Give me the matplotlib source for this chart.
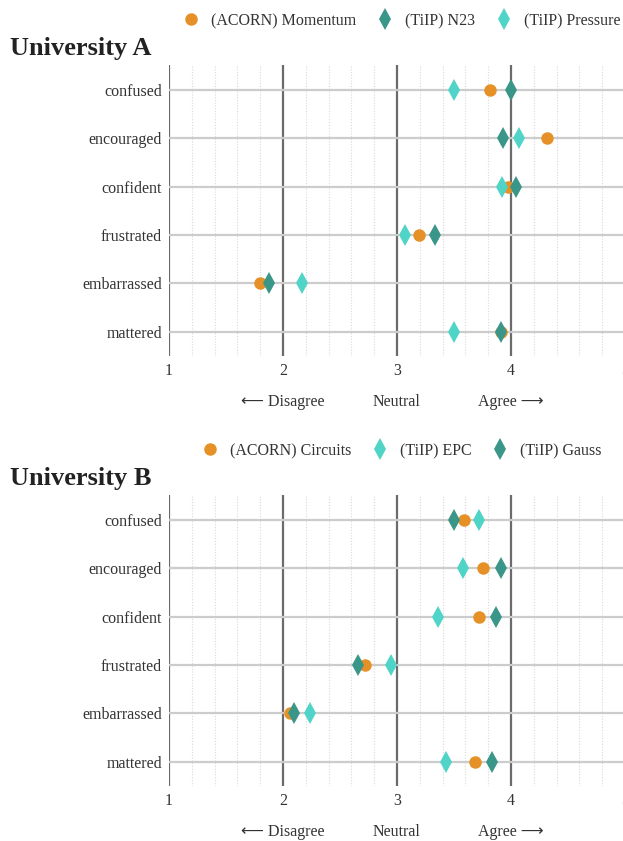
import matplotlib.pyplot as plt
from matplotlib.ticker import MultipleLocator
from matplotlib.transforms import blended_transform_factory

plt.rcParams['font.family'] = ['Liberation Serif', 'DejaVu Sans']

categories = ["confused", "encouraged", "confident", "frustrated", "embarrassed", "mattered"]

# University A course means
uni_a_momentum = [3.82, 4.32, 3.97, 3.19, 1.80, 3.91]
uni_a_n23 = [4.00, 3.93, 4.04, 3.33, 1.88, 3.91]
uni_a_pressure = [3.50, 4.07, 3.92, 3.07, 2.17, 3.50]

# University B course means
uni_b_circuits = [3.59, 3.75, 3.72, 2.72, 2.06, 3.68]
uni_b_epc = [3.72, 3.58, 3.36, 2.95, 2.24, 3.43]
uni_b_gauss = [3.50, 3.91, 3.87, 2.66, 2.10, 3.83]

scale_labels = ["⟵ Disagree", "Neutral", "Agree ⟶"]
scale_positions = [2, 3, 4]

ORANGE = "#E69128"
DARK = "#3B968A"
CYAN = "#51D4C8"
FS = 11.5

W, H = 623, 841
fig = plt.figure(figsize=(W / 100, H / 100), dpi=100)


def px_axes(top, bottom, left=169, right=625):
    return fig.add_axes([left / W, 1 - bottom / H, (right - left) / W, (bottom - top) / H])


def draw_panel(ax, series, title, title_y, legend_y):
    ypos = list(range(len(categories)))
    handles = []
    for label, vals, marker, color, ms in series:
        h, = ax.plot(vals, ypos, linestyle="none", marker=marker, color=color,
                     markersize=ms, markeredgewidth=0, label=label, zorder=3)
        handles.append(h)

    ax.set_xlim(1, 5)
    ax.set_ylim(len(categories) - 0.5, -0.52)
    ax.set_yticks(ypos)
    ax.set_yticklabels(categories)
    ax.xaxis.set_major_locator(MultipleLocator(1))
    ax.xaxis.set_minor_locator(MultipleLocator(0.2))
    ax.grid(axis="x", which="major", color="#6b6b6b", linewidth=1.6, zorder=1)
    ax.grid(axis="x", which="minor", color="#d9d9d9", linewidth=0.8, linestyle=(0, (1, 1.5)), zorder=0)
    ax.grid(axis="y", which="major", color="#cccccc", linewidth=1.6, zorder=1)
    ax.set_axisbelow(True)
    for s in ax.spines.values():
        s.set_visible(False)
    ax.tick_params(axis="both", which="both", length=0, labelsize=FS, colors="#333333")
    ax.tick_params(axis="x", pad=5)
    ax.tick_params(axis="y", pad=5)

    # agreement scale under the axis
    tr = blended_transform_factory(ax.transData, ax.transAxes)
    for txt, xv in zip(scale_labels, scale_positions):
        ax.text(xv, -0.158, txt, transform=tr, ha="center", va="center",
                fontsize=FS, color="#333333")

    fig.text(10 / W, 1 - title_y / H, title, fontsize=19, fontweight="bold",
             color="#222222", ha="left", va="center")
    fig.legend(handles=handles, loc="center", bbox_to_anchor=(402 / W, 1 - legend_y / H),
               ncol=3, frameon=False, fontsize=FS, handlelength=1.0,
               handletextpad=0.75, columnspacing=1.3, labelcolor="#333333")


ax_a = px_axes(65, 356)
draw_panel(ax_a, [
    ("(ACORN) Momentum", uni_a_momentum, "o", ORANGE, 9),
    ("(TiIP) N23", uni_a_n23, "d", DARK, 11),
    ("(TiIP) Pressure", uni_a_pressure, "d", CYAN, 11),
], "University A", 48, 21)

ax_b = px_axes(495, 786)
draw_panel(ax_b, [
    ("(ACORN) Circuits", uni_b_circuits, "o", ORANGE, 9),
    ("(TiIP) EPC", uni_b_epc, "d", CYAN, 11),
    ("(TiIP) Gauss", uni_b_gauss, "d", DARK, 11),
], "University B", 478, 451)

fig.savefig("out.png", dpi=100)
